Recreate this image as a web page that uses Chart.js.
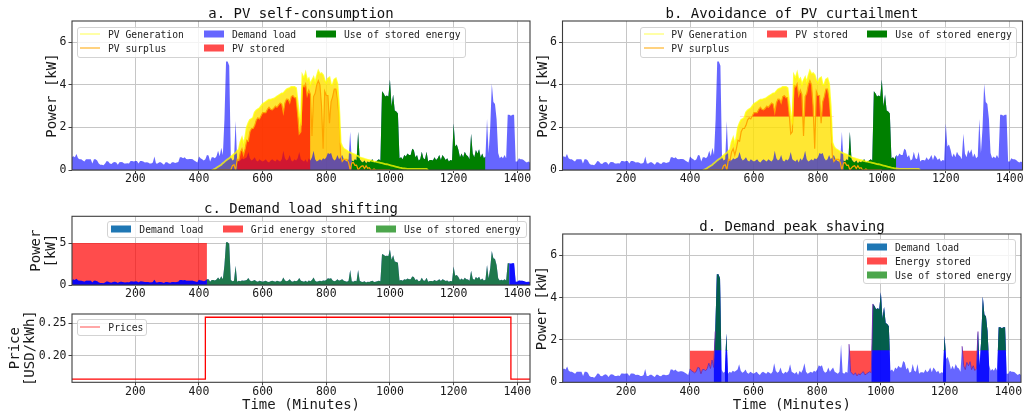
<!DOCTYPE html>
<html>
<head>
<meta charset="utf-8">
<title>Battery use cases</title>
<script src="https://cdn.jsdelivr.net/npm/chart.js@4.4.1/dist/chart.umd.min.js"></script>
<style>
    body { margin: 0; background: #fff; }
    #fig { position: relative; width: 1024px; height: 417px; overflow: hidden; font-family: "DejaVu Sans Mono", monospace; color: #111; }
    #fig canvas { position: absolute; left: 0; top: 0; }
    .t { position: absolute; font-size: 14px; white-space: nowrap; transform: translate(-50%, -50%); }
    .lg { position: absolute; background: rgba(255,255,255,0.8); border: 1px solid #d3d3d3; border-radius: 3px; box-sizing: border-box; }
    .li { position: absolute; font-size: 9.7px; color: #222; white-space: nowrap; transform: translateY(-50%); }
    .sw { position: absolute; width: 20px; height: 7px; transform: translateY(-50%); }
    .ln { position: absolute; width: 20px; height: 0; border-top: 1.6px solid; transform: translateY(-50%); }
</style>
</head>
<body>
<div id="fig">
    <canvas id="chartA" width="1024" height="417"></canvas>
    <canvas id="chartB" width="1024" height="417"></canvas>
    <canvas id="chartC" width="1024" height="417"></canvas>
    <canvas id="chartP" width="1024" height="417"></canvas>
    <canvas id="chartD" width="1024" height="417"></canvas>

    <div class="t" style="left:301px;top:13.3px">a. PV self-consumption</div>
    <div class="t" style="left:792px;top:13.3px">b. Avoidance of PV curtailment</div>
    <div class="t" style="left:301px;top:208.3px">c. Demand load shifting</div>
    <div class="t" style="left:792px;top:226px">d. Demand peak shaving</div>

    <!-- legend a -->
    <div class="lg" style="left:77px;top:26.5px;width:389px;height:31px"></div>
    <div class="ln" style="left:80px;top:34px;border-color:rgba(255,255,0,0.7)"></div>
    <div class="li" style="left:108px;top:34px">PV Generation</div>
    <div class="ln" style="left:80px;top:48.3px;border-color:orange"></div>
    <div class="li" style="left:108px;top:48.3px">PV surplus</div>
    <div class="sw" style="left:203.5px;top:34px;background:#6666ff"></div>
    <div class="li" style="left:232px;top:34px">Demand load</div>
    <div class="sw" style="left:203.5px;top:48.3px;background:#ff4c4c"></div>
    <div class="li" style="left:232px;top:48.3px">PV stored</div>
    <div class="sw" style="left:316px;top:34px;background:#008000"></div>
    <div class="li" style="left:344px;top:34px">Use of stored energy</div>

    <!-- legend b -->
    <div class="lg" style="left:640px;top:26.5px;width:377px;height:31px"></div>
    <div class="ln" style="left:644px;top:34px;border-color:rgba(255,255,0,0.7)"></div>
    <div class="li" style="left:671.3px;top:34px">PV Generation</div>
    <div class="ln" style="left:644px;top:48.3px;border-color:orange"></div>
    <div class="li" style="left:671.3px;top:48.3px">PV surplus</div>
    <div class="sw" style="left:767px;top:34px;background:#ff4c4c"></div>
    <div class="li" style="left:795.3px;top:34px">PV stored</div>
    <div class="sw" style="left:867.3px;top:34px;background:#008000"></div>
    <div class="li" style="left:895.3px;top:34px">Use of stored energy</div>

    <!-- legend c -->
    <div class="lg" style="left:107.3px;top:221.3px;width:419.4px;height:16.5px"></div>
    <div class="sw" style="left:111px;top:229.3px;background:#1f77b4"></div>
    <div class="li" style="left:139.3px;top:229.3px">Demand load</div>
    <div class="sw" style="left:222.7px;top:229.3px;background:#ff4c4c"></div>
    <div class="li" style="left:250.7px;top:229.3px">Grid energy stored</div>
    <div class="sw" style="left:376px;top:229.3px;background:#4ca64c"></div>
    <div class="li" style="left:404px;top:229.3px">Use of stored energy</div>

    <!-- legend prices -->
    <div class="lg" style="left:77.3px;top:319px;width:69.4px;height:17px"></div>
    <div class="ln" style="left:80px;top:327.3px;border-color:#ff5050"></div>
    <div class="li" style="left:108.3px;top:327.3px">Prices</div>

    <!-- legend d -->
    <div class="lg" style="left:863.3px;top:239px;width:152.4px;height:45px"></div>
    <div class="sw" style="left:867px;top:246.7px;background:#1f77b4"></div>
    <div class="li" style="left:895px;top:246.7px">Demand load</div>
    <div class="sw" style="left:867px;top:261px;background:#ff4c4c"></div>
    <div class="li" style="left:895px;top:261px">Energy stored</div>
    <div class="sw" style="left:867px;top:275.3px;background:#4ca64c"></div>
    <div class="li" style="left:895px;top:275.3px">Use of stored energy</div>
</div>

<script>
// Demand profile sampled every 5 minutes over the day
const minutes = Array.from({ length: 289 }, (_, i) => i * 5);
const timeTicks = [200, 400, 600, 800, 1000, 1200, 1400];
const powerTicks = [0, 2, 4, 6];
const shiftTicks = [0, 5];
const priceTicks = [0.20, 0.25];

// kW, one row per hour
const demandLoad = [
    0.6, 0.65, 0.6, 0.75, 0.55, 0.5, 0.5, 0.45, 0.4, 0.5, 0.5, 0.5,
    0.5, 0.3, 0.5, 0.5, 0.45, 0.3, 0.25, 0.25, 0.22, 0.3, 0.42, 0.4,
    0.3, 0.28, 0.35, 0.38, 0.35, 0.25, 0.36, 0.38, 0.36, 0.3, 0.3, 0.32,
    0.3, 0.42, 0.42, 0.4, 0.42, 0.42, 0.3, 0.42, 0.42, 0.4, 0.35, 0.36,
    0.35, 0.3, 0.3, 0.35, 0.63, 0.3, 0.3, 0.36, 0.36, 0.3, 0.25, 0.36,
    0.36, 0.3, 0.28, 0.36, 0.36, 0.33, 0.35, 0.38, 0.6, 0.6, 0.55, 0.6,
    0.52, 0.5, 0.52, 0.52, 0.5, 0.45, 0.4, 0.35, 0.63, 0.55, 0.5, 0.45,
    0.5, 0.7, 0.68, 0.4, 0.6, 0.6, 0.55, 0.65, 0.9, 0.65, 1.05, 0.7,
    2.4, 5.1, 5.1, 4.9, 0.6, 0.45, 0.5, 2.3, 0.4, 0.5, 0.45, 0.55,
    0.5, 0.55, 0.6, 0.85, 0.55, 0.45, 0.5, 0.6, 0.45, 0.4, 0.5, 0.45,
    0.4, 0.45, 0.5, 0.4, 0.35, 0.45, 0.5, 0.45, 0.4, 0.5, 0.45, 0.4,
    0.5, 0.9, 0.55, 0.45, 0.5, 0.7, 0.45, 0.4, 0.5, 0.45, 0.55, 0.85,
    0.5, 0.45, 0.4, 0.5, 0.35, 0.55, 0.45, 0.6, 0.9, 0.5, 0.4, 0.45,
    0.5, 0.45, 0.55, 0.5, 0.6, 0.8, 0.75, 0.8, 0.55, 0.45, 0.5, 0.7,
    0.5, 0.6, 0.7, 0.5, 0.45, 0.4, 0.5, 1.8, 0.45, 0.4, 0.5, 0.45,
    1.8, 0.5, 0.4, 0.35, 0.45, 0.3, 0.4, 0.35, 0.45, 0.5, 0.35, 0.4,
    0.45, 0.5, 0.45, 3.7, 3.6, 3.45, 3.5, 3.45, 4.25, 3.0, 3.55, 2.8,
    2.75, 2.65, 0.55, 0.6, 0.5, 0.7, 0.63, 0.78, 0.7, 0.7, 1.0, 0.94,
    0.6, 0.7, 0.45, 0.5, 0.86, 0.55, 0.5, 0.86, 0.4, 0.47, 0.47, 0.45,
    0.6, 0.47, 0.55, 0.7, 0.47, 0.7, 0.6, 0.47, 0.55, 0.4, 0.47, 0.45,
    2.2, 1.1, 1.2, 0.95, 0.6, 0.78, 0.6, 0.86, 0.7, 0.65, 0.5, 1.7,
    0.78, 0.6, 0.94, 0.78, 0.97, 0.6, 0.78, 0.55, 0.63, 2.4, 0.8, 2.0,
    4.05, 3.2, 3.1, 2.4, 0.8, 0.55, 0.63, 0.55, 0.7, 0.55, 2.6, 2.6,
    2.55, 2.6, 2.6, 0.4, 0.4, 0.55, 0.5, 0.5, 0.47, 0.4, 0.35, 0.4, 0.35
];

// PV series start at minute 440, same 5 minute step
const pvStart = 440;
const pvGeneration = [
    0, 0.02, 0.05, 0.1, 0.15, 0.2, 0.25, 0.32, 0.38, 0.45, 0.5, 0.55,
    0.62, 0.68, 0.75, 0.8, 0.9, 0.95, 1.3, 1.5, 1.2, 1.5, 2.0, 2.2,
    2.35, 2.4, 2.45, 2.7, 2.8, 2.85, 2.9, 3.0, 3.1, 3.15, 3.2, 3.25,
    3.3, 3.3, 3.33, 3.35, 3.4, 3.45, 3.5, 3.55, 3.6, 3.6, 3.7, 3.78,
    3.82, 3.85, 3.9, 3.9, 3.9, 3.85, 3.2, 2.55, 2.3, 4.45, 4.3, 4.55,
    4.2, 4.3, 4.0, 4.2, 4.35, 4.1, 4.4, 4.65, 4.5, 4.55, 4.45, 4.2,
    4.1, 4.3, 4.35, 4.0, 4.0, 4.25, 4.3, 4.05, 3.0, 1.3, 1.1, 1.0,
    0.95, 0.9, 0.85, 0.82, 0.78, 0.75, 0.72, 0.68, 0.65, 0.6, 0.57, 0.55,
    0.52, 0.5, 0.48, 0.46, 0.44, 0.42, 0.4, 0.39, 0.37, 0.36, 0.34, 0.32,
    0.3, 0.28, 0.27, 0.25, 0.23, 0.21, 0.19, 0.17, 0.15, 0.13, 0.11, 0.1,
    0.08, 0.07, 0.06, 0.05, 0.05, 0.05, 0.05, 0.05, 0.05, 0.05, 0.05, 0.05,
    0.05, 0.05, 0.05, 0.05, 0
];
const pvSurplus = [
    0, 0, 0, 0, 0, 0, 0, 0, 0, 0, 0, 0,
    0, 0.2, 0.25, 0, 0.5, 0.45, 0.85, 1.0, 0.7, 1.0, 1.4, 1.35,
    1.8, 1.95, 1.95, 2.1, 2.35, 2.45, 2.4, 2.55, 2.7, 2.7, 2.7, 2.85,
    2.95, 2.85, 2.83, 2.9, 3.0, 2.95, 3.05, 3.15, 3.1, 2.7, 3.15, 3.33,
    3.32, 3.15, 3.45, 3.5, 3.4, 3.4, 2.65, 1.7, 1.8, 4.0, 3.9, 4.05,
    3.5, 3.75, 3.55, 1.6, 3.45, 3.6, 4.0, 4.2, 4.0, 3.0, 1.0, 3.7,
    3.5, 3.5, 2.2, 3.2, 3.45, 3.8, 3.8, 3.35, 2.5, 0.7, 0.4, 0.5,
    0.5, 0.5, 0.35, 0, 0.33, 0.35, 0.22, 0.23, 0, 0.1, 0.17, 0.2,
    0.07, 0.2, 0.08, 0.11, 0, 0, 0.05, 0, 0, 0, 0, 0,
    0, 0, 0, 0, 0
];

// tariff steps (USD/kWh)
const priceTimes = [1, 420, 1380, 1440];
const prices = [0.164, 0.259, 0.164, 0.164];

// battery operation windows (minutes)
const storedWindowA = [[520, 750]];
const useWindowA = [[880, 1300]];
const curtailLimit = 2.5;
const storedWindowB = [[555, 850]];
const useWindowB = [[880, 1045]];
const gridChargePower = 5;
const chargeWindowC = [[0, 425]];
const useWindowC = [[425, 1375]];
const plainWindowsC = [[0, 425], [1375, 1440]];
const peakLimit = 1.5;
const chargeWindowsD = [[400, 480], [900, 975], [1255, 1305]];
const dischargeWindowsD = [[475, 500], [510, 520], [970, 1030], [1195, 1205], [1300, 1340], [1365, 1395]];

const TEXT = '#1a1a1a';
const GRID = '#c6c6c6';
const DEMAND = 'rgba(0,0,255,0.6)';
const STORED = 'rgba(255,0,0,0.7)';
const USE_ALPHA = 'rgba(0,128,0,0.7)';
const PV_FILL = 'rgba(255,225,0,0.8)';
const PV_LINE = 'rgba(255,255,0,0.75)';

Chart.defaults.font.family = '"DejaVu Sans Mono", monospace';

const inside = (t, windows) => windows.some(([a, b]) => t >= a && t <= b);

function demandPoints(windows) {
    return minutes.map((t, i) => ({ x: t, y: !windows || inside(t, windows) ? demandLoad[i] : null }));
}

function pvPoints(values, windows) {
    return values.map((v, i) => {
        const t = pvStart + i * 5;
        return { x: t, y: !windows || inside(t, windows) ? v : null };
    });
}

function levelPoints(level, windows) {
    return minutes.filter(t => inside(t, windows)).map(t => ({ x: t, y: level }));
}

function area(data, color, order, fill = 'origin') {
    return { data, order, fill, backgroundColor: color, borderColor: 'transparent', borderWidth: 0, pointRadius: 0 };
}

function line(data, color, width, order, extra) {
    return Object.assign({ data, order, fill: false, borderColor: color, borderWidth: width, pointRadius: 0 }, extra);
}

// axes frame on all four sides
const frame = {
    id: 'frame',
    afterDatasetsDraw(chart) {
        const { ctx, chartArea: a } = chart;
        ctx.save();
        ctx.strokeStyle = '#3c3c3c';
        ctx.lineWidth = 1.1;
        ctx.strokeRect(a.left, a.top, a.right - a.left, a.bottom - a.top);
        ctx.restore();
    }
};

function makeChart(id, box, datasets, y, xTitle) {
    return new Chart(document.getElementById(id), {
        type: 'line',
        data: { datasets },
        options: {
            responsive: false,
            animation: false,
            events: [],
            layout: { padding: box.padding },
            elements: { line: { tension: 0 } },
            plugins: {
                legend: { display: false },
                tooltip: { enabled: false },
                filler: { drawTime: 'beforeDatasetsDraw' }
            },
            scales: {
                x: {
                    type: 'linear', min: 1, max: 1440,
                    afterBuildTicks: s => { s.ticks = timeTicks.map(v => ({ value: v })); },
                    afterFit: s => { s.height = box.xHeight; },
                    grid: { color: GRID, tickColor: '#444', tickLength: 3 },
                    border: { display: false },
                    ticks: { color: TEXT, padding: box.xPad, autoSkip: false, maxRotation: 0, font: { size: 11.5, lineHeight: 1 }, callback: v => String(v) },
                    title: xTitle
                        ? { display: true, text: xTitle, color: TEXT, font: { size: 14 }, padding: { top: 0, bottom: 2.9 } }
                        : { display: false }
                },
                y: {
                    min: y.min, max: y.max,
                    afterBuildTicks: s => { s.ticks = y.ticks.map(v => ({ value: v })); },
                    afterFit: s => { s.width = box.yWidth; },
                    grid: { color: GRID, tickColor: '#444', tickLength: 3.5 },
                    border: { display: false },
                    ticks: { color: TEXT, padding: 2, font: { size: 11.5 }, callback: y.fmt || (v => String(v)) },
                    title: { display: true, text: y.title, color: TEXT, font: { size: 14, lineHeight: y.lineHeight || 1.2 }, padding: { top: 4, bottom: 0 } }
                }
            }
        },
        plugins: [frame]
    });
}

const powerAxis = { min: 0, max: 7, ticks: powerTicks, title: 'Power [kW]' };

// a. PV self-consumption
makeChart('chartA', { padding: { left: 40.1, top: 21, right: 494, bottom: 225 }, yWidth: 31.9, xHeight: 22, xPad: 0 }, [
    line(pvPoints(pvGeneration), PV_LINE, 1.8, 0),
    line(pvPoints(pvSurplus), 'orange', 1.2, 1),
    area(demandPoints(useWindowA), '#008000', 2),
    area(pvPoints(pvSurplus, storedWindowA), STORED, 3),
    area(demandPoints(), DEMAND, 4),
    area(pvPoints(pvSurplus), 'rgba(255,165,0,0.45)', 5),
    area(pvPoints(pvGeneration), PV_FILL, 6)
], powerAxis);

// b. Avoidance of PV curtailment
makeChart('chartB', { padding: { left: 531.3, top: 21, right: 1.5, bottom: 225 }, yWidth: 31.2, xHeight: 22, xPad: 0 }, [
    line(pvPoints(pvGeneration), PV_LINE, 1.8, 0),
    line(pvPoints(pvSurplus), 'orange', 1.2, 1),
    area(demandPoints(useWindowB), '#008000', 2),
    area(pvPoints(pvSurplus, storedWindowB), STORED, 3, { target: { value: curtailLimit }, above: STORED, below: 'transparent' }),
    area(demandPoints(), DEMAND, 4),
    area(pvPoints(pvGeneration), PV_FILL, 5)
], powerAxis);

// c. Demand load shifting
makeChart('chartC', { padding: { left: 24.5, top: 216.3, right: 494, bottom: 110 }, yWidth: 47.5, xHeight: 22, xPad: 0 }, [
    area(demandPoints(useWindowC), USE_ALPHA, 0),
    area(demandPoints(plainWindowsC), 'rgba(0,0,255,0.85)', 1),
    area(demandPoints(), DEMAND, 2),
    area(levelPoints(gridChargePower, chargeWindowC), STORED, 3)
], { min: 0, max: 8.2, ticks: shiftTicks, title: ['Power', '[kW]'], lineHeight: 1.1 });

makeChart('chartP', { padding: { left: 3.6, top: 314, right: 494, bottom: 0 }, yWidth: 68.4, xHeight: 34.7, xPad: 1.3 }, [
    line(priceTimes.map((t, i) => ({ x: t, y: prices[i] })), 'red', 1.3, 0, { stepped: true })
], { min: 0.159, max: 0.264, ticks: priceTicks, fmt: v => v.toFixed(2), title: ['Price', '[USD/kWh]'], lineHeight: 1.1 }, 'Time (Minutes)');

// d. Demand peak shaving
const chargeD = area(demandPoints(chargeWindowsD), STORED, 3, { target: { value: peakLimit }, above: 'transparent', below: STORED });
chargeD.borderColor = 'rgba(110,40,170,0.9)';
chargeD.borderWidth = 1;
makeChart('chartD', { padding: { left: 530.1, top: 234, right: 3, bottom: 0 }, yWidth: 32.6, xHeight: 34.7, xPad: 1.3 }, [
    area(demandPoints(dischargeWindowsD), USE_ALPHA, 0, { target: { value: peakLimit }, above: USE_ALPHA, below: 'transparent' }),
    area(demandPoints(dischargeWindowsD), 'rgba(0,0,255,0.85)', 1),
    area(demandPoints(), DEMAND, 2),
    chargeD
], powerAxis, 'Time (Minutes)');
</script>
</body>
</html>
